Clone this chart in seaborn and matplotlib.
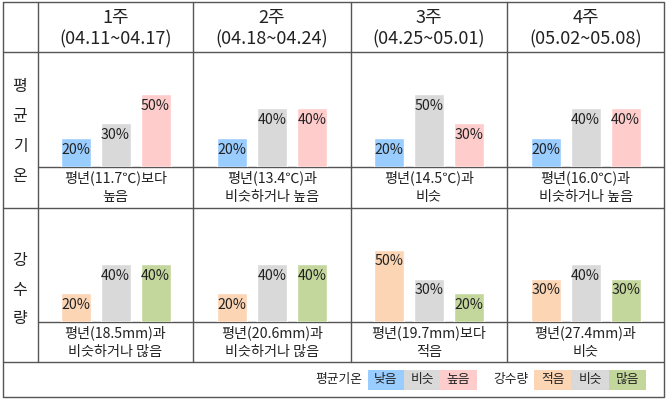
import pandas as pd
import numpy as np
import matplotlib.pyplot as plt
import seaborn as sns

# =====================================================
# DADOS
# =====================================================
semanas = ["1주", "2주", "3주", "4주"]
periodos = ["(04.11~04.17)", "(04.18~04.24)", "(04.25~05.01)", "(05.02~05.08)"]

temp_cats = ["낮음", "비슷", "높음"]
temp_low = [20, 20, 20, 20]
temp_sim = [30, 40, 50, 40]
temp_high = [50, 40, 30, 40]
temp_textos = ["평년(11.7℃)보다\n높음", "평년(13.4℃)과\n비슷하거나 높음",
               "평년(14.5℃)과\n비슷", "평년(16.0℃)과\n비슷하거나 높음"]

chuva_cats = ["적음", "비슷", "많음"]
chuva_less = [20, 20, 50, 30]
chuva_sim = [40, 40, 30, 40]
chuva_more = [40, 40, 20, 30]
chuva_textos = ["평년(18.5mm)과\n비슷하거나 많음", "평년(20.6mm)과\n비슷하거나 많음",
                "평년(19.7mm)보다\n적음", "평년(27.4mm)과\n비슷"]

cores_temp = ["#99CCFF", "#D9D9D9", "#FFCCCC"]
cores_chuva = ["#FCD5B5", "#D9D9D9", "#C3D69B"]

# =====================================================
# LAYOUT (pixels)
# =====================================================
W, H = 666, 399
sns.set_style("white")
plt.rcParams['font.family'] = ['Noto Sans CJK KR', 'DejaVu Sans']
COR_LINHA = "#555555"
COR_TEXTO = "#222222"

fig = plt.figure(figsize=(W / 100, H / 100), dpi=100)
bg = fig.add_axes([0, 0, 1, 1])
bg.set_xlim(0, W)
bg.set_ylim(H, 0)
bg.axis("off")

esq, dir_, topo, fundo = 3, 664, 1.5, 397
cols = [37.7, 193.3, 350.7, 507.3, dir_]
y_head, y_base1, y_row1, y_base2, y_row2 = 51.7, 167, 207.7, 322.3, 362.3

lw = 1.0
# borda externa
bg.plot([esq, dir_, dir_, esq, esq], [topo, topo, fundo, fundo, topo], color=COR_LINHA, lw=lw)
for x in cols[:-1]:
    bg.plot([x, x], [topo, y_row2], color=COR_LINHA, lw=lw)
for y in [y_head, y_row1, y_row2]:
    bg.plot([esq, dir_], [y, y], color=COR_LINHA, lw=lw)
for y in [y_base1, y_base2]:
    bg.plot([cols[0], dir_], [y, y], color=COR_LINHA, lw=lw)

# cabeçalho
for i in range(4):
    cx = (cols[i] + cols[i + 1]) / 2
    bg.text(cx, 18, semanas[i], ha="center", va="center", fontsize=13, color=COR_TEXTO)
    bg.text(cx, 39, periodos[i], ha="center", va="center", fontsize=13, color=COR_TEXTO)

# rótulos das linhas (vertical)
for i, ch in enumerate("평균기온"):
    bg.text(20, 87 + i * 30, ch, ha="center", va="center", fontsize=11.5, color=COR_TEXTO)
for i, ch in enumerate("강수량"):
    bg.text(20, 261 + i * 29, ch, ha="center", va="center", fontsize=11.5, color=COR_TEXTO)


def desenha_barras(x0, x1, y0, y1, cats, valores, cores):
    ax = fig.add_axes([x0 / W, 1 - y1 / H, (x1 - x0) / W, (y1 - y0) / H])
    df = pd.DataFrame({"cat": cats, "val": valores})
    sns.barplot(data=df, x="cat", y="val", hue="cat", palette=cores,
                width=0.75, legend=False, ax=ax, saturation=1)
    meia = (x1 - x0) / 40 / 2
    ax.set_xlim(1 - meia, 1 + meia)
    ax.set_ylim(0, 115 / 1.46)
    for j, v in enumerate(valores):
        ax.annotate(f"{v}%", (j, v), xytext=(0, -8.5), textcoords="offset points",
                    ha="center", va="center", fontsize=10.2, color=COR_TEXTO)
    ax.axis("off")
    ax.patch.set_alpha(0)
    return ax


for i in range(4):
    x0, x1 = cols[i], cols[i + 1]
    cx = (x0 + x1) / 2
    desenha_barras(x0, x1, y_head, y_base1, temp_cats,
                   [temp_low[i], temp_sim[i], temp_high[i]], cores_temp)
    desenha_barras(x0, x1, y_row1, y_base2, chuva_cats,
                   [chuva_less[i], chuva_sim[i], chuva_more[i]], cores_chuva)
    l1, l2 = temp_textos[i].split("\n")
    bg.text(cx, 178, l1, ha="center", va="center", fontsize=10.2, color=COR_TEXTO)
    bg.text(cx, 197, l2, ha="center", va="center", fontsize=10.2, color=COR_TEXTO)
    l1, l2 = chuva_textos[i].split("\n")
    bg.text(cx, 333, l1, ha="center", va="center", fontsize=10.2, color=COR_TEXTO)
    bg.text(cx, 352, l2, ha="center", va="center", fontsize=10.2, color=COR_TEXTO)

# legenda
ly0, ly1 = 369.5, 389.5
bg.text(362, (ly0 + ly1) / 2, "평균기온", ha="right", va="center", fontsize=9.2, color=COR_TEXTO)
for k, (nome, cor) in enumerate(zip(temp_cats, cores_temp)):
    xa = 367.7 + k * 36.3
    bg.add_patch(plt.Rectangle((xa, ly0), 36.3, ly1 - ly0, color=cor, lw=0))
    bg.text(xa + 18.15, (ly0 + ly1) / 2, nome, ha="center", va="center", fontsize=9.2, color=COR_TEXTO)
bg.text(529, (ly0 + ly1) / 2, "강수량", ha="right", va="center", fontsize=9.2, color=COR_TEXTO)
for k, (nome, cor) in enumerate(zip(chuva_cats, cores_chuva)):
    xa = 534 + k * 37.3
    bg.add_patch(plt.Rectangle((xa, ly0), 37.3, ly1 - ly0, color=cor, lw=0))
    bg.text(xa + 18.65, (ly0 + ly1) / 2, nome, ha="center", va="center", fontsize=9.2, color=COR_TEXTO)

fig.savefig("out.png", dpi=100)
plt.close(fig)
